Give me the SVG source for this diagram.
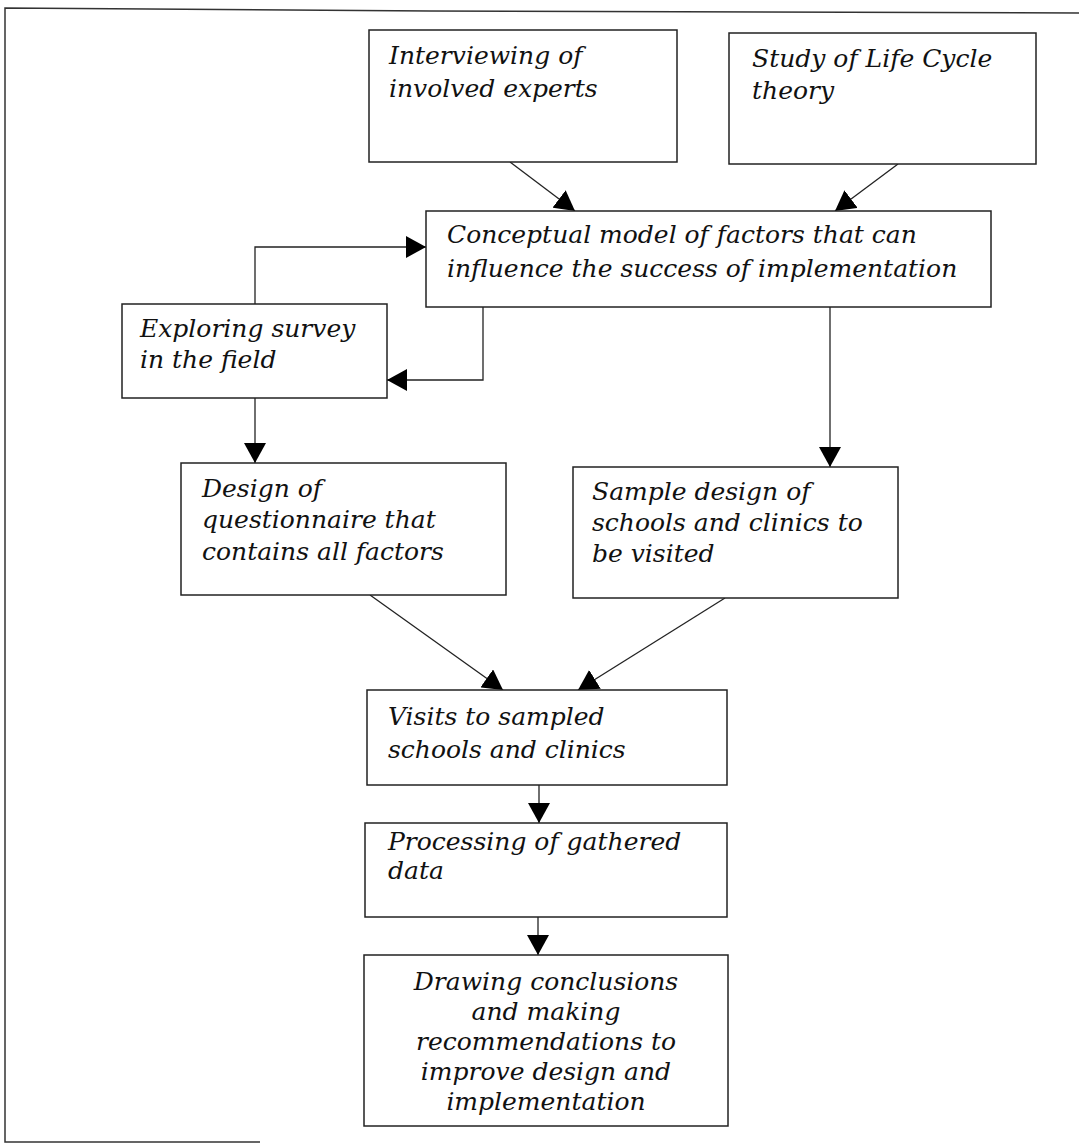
<svg xmlns="http://www.w3.org/2000/svg" width="1079" height="1143" viewBox="0 0 1079 1143">
<defs>
<marker id="ah" markerUnits="userSpaceOnUse" markerWidth="22" markerHeight="22" refX="20" refY="11" orient="auto">
<path d="M0,0 L20,11 L0,22 z" fill="#000"/>
</marker>
<style>
.box{fill:#fff;stroke:#222;stroke-width:1.5}
.t{font-family:"DejaVu Serif","Liberation Serif",serif;font-style:italic;font-size:25px;fill:#111}
.c{text-anchor:middle}
.ln{fill:none;stroke:#222;stroke-width:1.3;marker-end:url(#ah)}
.fr{fill:none;stroke:#333;stroke-width:1.5}
</style>
</defs>
<rect width="1079" height="1143" fill="#fff"/>
<g id="frame">
<polyline class="fr" points="1079,13 430,11 5,8 5,1142 260,1142"/>
</g>
<g id="connectors">
<line class="ln" x1="510" y1="162" x2="575" y2="211"/>
<line class="ln" x1="898" y1="164" x2="835" y2="211"/>
<polyline class="ln" points="255,304 255,247 426,247"/>
<polyline class="ln" points="483,307 483,380 387,380"/>
<line class="ln" x1="255" y1="398" x2="255" y2="463"/>
<line class="ln" x1="830" y1="307" x2="830" y2="467"/>
<line class="ln" x1="370" y1="595" x2="503" y2="690"/>
<line class="ln" x1="725" y1="598" x2="578" y2="690"/>
<line class="ln" x1="539" y1="785" x2="539" y2="823"/>
<line class="ln" x1="538" y1="917" x2="538" y2="955"/>
</g>
<g id="n1">
<rect class="box" x="369" y="30" width="308" height="132"/>
<text class="t" x="389" y="64">Interviewing of</text>
<text class="t" x="389" y="97">involved experts</text>
</g>
<g id="n2">
<rect class="box" x="729" y="33" width="307" height="131"/>
<text class="t" x="752" y="67">Study of Life Cycle</text>
<text class="t" x="752" y="99">theory</text>
</g>
<g id="n3">
<rect class="box" x="426" y="211" width="565" height="96"/>
<text class="t" x="447" y="243">Conceptual model of factors that can</text>
<text class="t" x="447" y="277">influence the success of implementation</text>
</g>
<g id="n4">
<rect class="box" x="122" y="304" width="265" height="94"/>
<text class="t" x="140" y="337">Exploring survey</text>
<text class="t" x="140" y="368">in the field</text>
</g>
<g id="n5">
<rect class="box" x="181" y="463" width="325" height="132"/>
<text class="t" x="202" y="497">Design of</text>
<text class="t" x="202" y="528">questionnaire that</text>
<text class="t" x="202" y="560">contains all factors</text>
</g>
<g id="n6">
<rect class="box" x="573" y="467" width="325" height="131"/>
<text class="t" x="592" y="500">Sample design of</text>
<text class="t" x="592" y="531">schools and clinics to</text>
<text class="t" x="592" y="562">be visited</text>
</g>
<g id="n7">
<rect class="box" x="367" y="690" width="360" height="95"/>
<text class="t" x="388" y="725">Visits to sampled</text>
<text class="t" x="388" y="758">schools and clinics</text>
</g>
<g id="n8">
<rect class="box" x="365" y="823" width="362" height="94"/>
<text class="t" x="388" y="850">Processing of gathered</text>
<text class="t" x="388" y="879">data</text>
</g>
<g id="n9">
<rect class="box" x="364" y="955" width="364" height="171"/>
<text class="t c" x="546" y="990">Drawing conclusions</text>
<text class="t c" x="546" y="1020">and making</text>
<text class="t c" x="546" y="1050">recommendations to</text>
<text class="t c" x="546" y="1080">improve design and</text>
<text class="t c" x="546" y="1110">implementation</text>
</g>
</svg>
